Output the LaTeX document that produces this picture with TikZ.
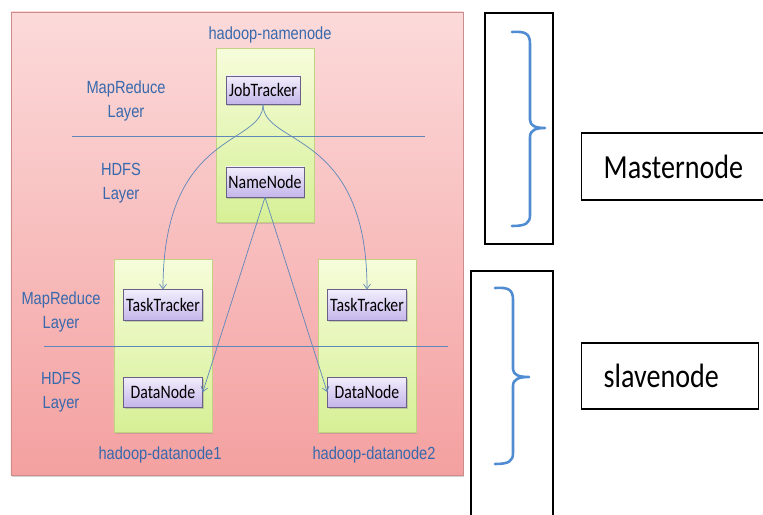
\documentclass[tikz,border=0pt]{standalone}
\usepackage{fontspec}
\setmainfont{Liberation Sans}
\newfontfamily\calfont{Carlito}
\usetikzlibrary{shadows}
\usetikzlibrary{arrows.meta}
\newcommand{\tall}[1]{\scalebox{1}[1.2]{#1}}
\definecolor{lblue} {RGB}{55,105,172}
\definecolor{wire}  {RGB}{95,135,185}
\definecolor{ptop}  {RGB}{252,218,218}
\definecolor{pbot}  {RGB}{244,160,160}
\definecolor{pedge} {RGB}{205,140,140}
\definecolor{gtop}  {RGB}{246,252,218}
\definecolor{gbot}  {RGB}{214,240,150}
\definecolor{gedge} {RGB}{196,208,130}
\definecolor{vtop}  {RGB}{242,238,252}
\definecolor{vbot}  {RGB}{196,182,234}
\definecolor{vedge} {RGB}{105,95,135}
\definecolor{bblue} {RGB}{80,140,210}
\tikzset{
    cluster/.style={draw=pedge, line width=0.5pt, top color=ptop, bottom color=pbot,
             minimum width=13.56cm, minimum height=13.89cm,
             drop shadow={shadow xshift=1pt, shadow yshift=-2pt, opacity=0.35}},
    host/.style={draw=gedge, line width=0.6pt, top color=gtop, bottom color=gbot,
             minimum width=2.94cm, minimum height=5.2cm,
             drop shadow={shadow xshift=1pt, shadow yshift=-1.5pt, opacity=0.3}},
    daemon/.style={draw=vedge, line width=0.5pt, top color=vtop, bottom color=vbot,
             minimum width=2.37cm, minimum height=0.92cm, inner sep=0pt,
             font=\calfont\fontsize{13.5}{15}\selectfont,
             drop shadow={shadow xshift=1pt, shadow yshift=-1.5pt, opacity=0.35}},
    layertext/.style={text=lblue, align=center, font=\fontsize{12.5}{20}\selectfont},
    hostname/.style={text=lblue, font=\fontsize{12.5}{14}\selectfont},
    layerline/.style={draw=wire, line width=0.6pt},
    link/.style={draw=wire, line width=0.6pt, -{Straight Barb[length=4pt,width=6pt]}},
    brackbox/.style={draw=black, line width=1.2pt, inner sep=0pt},
    roletag/.style={draw=black, line width=1.2pt, inner xsep=0.66cm, align=left,
             font=\calfont\fontsize{24}{28}\selectfont},
    curly/.style={draw=bblue, line width=2.2pt, line cap=round, line join=round}
  }
\begin{document}
\begin{tikzpicture}[x=0.03cm, y=-0.03cm]
 \useasboundingbox (0,0) rectangle (763,515);
 %cluster background
     \node[cluster] (cluster) at (237,243.5) {};
 %hosts
     \node[host] (master) at (265,135.5) {};
     \node[host] (slaveA) at (163,346) {};
     \node[host] (slaveB) at (367,346) {};
     \node[hostname] (mastername) at (270,35) {\tall{hadoop-namenode}};
     \node[hostname] (slaveAname) at (160,455) {\tall{hadoop-datanode1}};
     \node[hostname] (slaveBname) at (374,455) {\tall{hadoop-datanode2}};
 %layer borders
     \draw[layerline] (72,136) -- (425,136);
     \draw[layerline] (44,346) -- (448,346);
     \node[layertext] (mrtop) at (126,101) {\tall{MapReduce}\\\tall{Layer}};
     \node[layertext] (hdfstop) at (121,183) {\tall{HDFS}\\\tall{Layer}};
     \node[layertext] (mrbot) at (61,312) {\tall{MapReduce}\\\tall{Layer}};
     \node[layertext] (hdfsbot) at (61,392) {\tall{HDFS}\\\tall{Layer}};
 %daemons
     \node[daemon, minimum width=2.22cm, minimum height=0.84cm] (jt) at (263,90) {\tall{JobTracker}};
     \node[daemon, minimum width=2.34cm, minimum height=0.9cm] (nn) at (265,182) {\tall{NameNode}};
     \node[daemon] (ttA) at (163,305) {\tall{TaskTracker}};
     \node[daemon] (ttB) at (367,305) {\tall{TaskTracker}};
     \node[daemon, minimum height=0.9cm] (dnA) at (163,392) {\tall{DataNode}};
     \node[daemon, minimum height=0.9cm] (dnB) at (367,392) {\tall{DataNode}};
 %JobTracker to TaskTrackers
     \draw[link] (jt.south) .. controls +(0,42) and +(0,-160) .. (ttA.north);
     \draw[link] (jt.south) .. controls +(0,42) and +(0,-160) .. (ttB.north);
 %NameNode to DataNodes
     \draw[link] (nn.south) -- (dnA.east);
     \draw[link] (nn.south) -- (dnB.west);
 %right side
     \node[brackbox, minimum width=2.04cm, minimum height=6.93cm] (masterbrk) at (519,128.5) {};
     \node[brackbox, minimum width=2.46cm, minimum height=7.77cm] (slavebrk) at (512,400.5) {};
 %braces
     \draw[curly] (512,32) .. controls (526,31) and (530,34) .. (530,44) -- (530,120)
        .. controls (530,126) and (536,128) .. (545,128)
        .. controls (536,128) and (530,130) .. (530,137) -- (530,215)
        .. controls (530,223) and (526,226) .. (512,226);
     \draw[curly] (495,288) .. controls (509,287) and (513,290) .. (513,300) -- (513,369)
        .. controls (513,375) and (519,377) .. (529,377)
        .. controls (519,377) and (513,379) .. (513,386) -- (513,453)
        .. controls (513,461) and (509,464) .. (495,464);
     \node[roletag, anchor=west, text width=4.14cm, minimum height=2.01cm] (mastertag) at (581,166.5) {\tall{Masternode}};
     \node[roletag, anchor=west, text width=3.99cm, minimum height=1.98cm] (slavetag) at (581,376) {\tall{slavenode}};
 \end{tikzpicture}
\end{document}
